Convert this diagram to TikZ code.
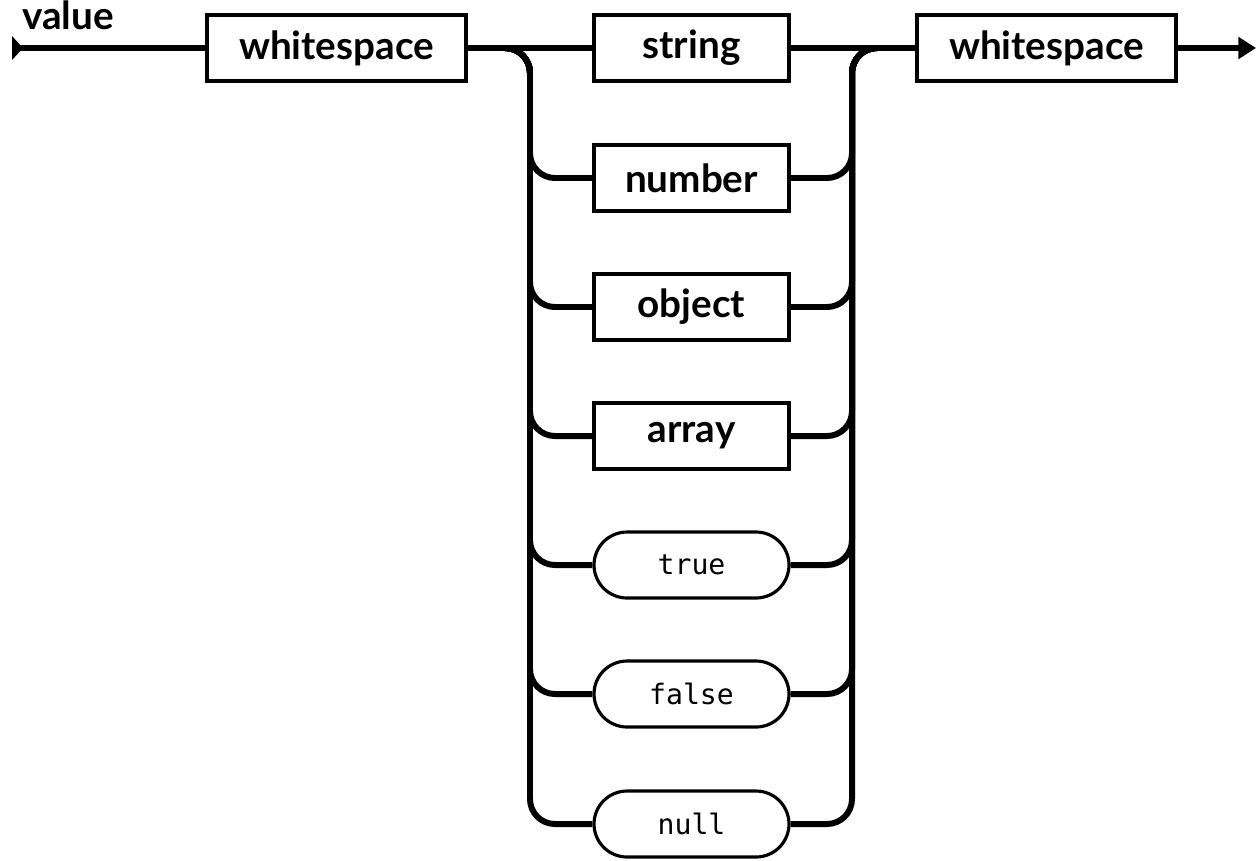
\documentclass[tikz,border=0pt]{standalone}
\usepackage{fontspec}
\setmainfont{Lato}
\setmonofont{DejaVu Sans Mono}
\usetikzlibrary{arrows.meta,positioning}

\begin{document}
\begin{tikzpicture}[x=0.02cm,y=-0.02cm,
    rule/.style={draw,line width=1.8pt,minimum height=1.32cm,font=\fontsize{22}{26}\selectfont\bfseries},
    lit/.style={draw,line width=1.8pt,rounded corners=0.66cm,minimum width=3.9cm,minimum height=1.32cm,font=\fontsize{16}{20}\ttfamily},
    track/.style={line width=3.4pt,rounded corners=0.5cm}]
    \useasboundingbox (0,0) rectangle (1260,860);
    % start and label
    \coordinate (start) at (16,48);
    \fill (12,36) -- (23,48) -- (12,60) -- cycle;
    \node[anchor=north west,inner sep=0pt,font=\fontsize{22}{26}\selectfont\bfseries] (lbl) at (22,0) {value};
    \node[rule,minimum width=5.18cm] (ws1) at (336.5,48) {whitespace};
    \node[rule,minimum width=5.18cm] (ws2) at (1046.5,48) {whitespace};
    \coordinate (stop) at (1256,48);
    % choices
    \node[rule,minimum width=3.9cm] (string) at (691.5,48) {string};
    \node[rule,minimum width=3.9cm] (number) at (691.5,178) {number};
    \node[rule,minimum width=3.9cm] (object) at (691.5,307) {object};
    \node[rule,minimum width=3.9cm] (array) at (691.5,436) {array};
    \node[lit] (true) at (691.5,565) {true};
    \node[lit] (false) at (691.5,694) {false};
    \node[lit] (null) at (691.5,824) {null};
    \draw[track] (start) -- (ws1.west);
    \draw[track] (ws1.east) -- (string.west);
    \draw[track] (string.east) -- (ws2.west);
    \draw[track,-{Triangle[length=10pt,width=12pt]}] (ws2.east) -- (stop);
    \foreach \b in {number,object,array,true,false,null}{
        \draw[track] (ws1.east) -| (530,0 |- \b.west) -- (\b.west);
        \draw[track] (\b.east) -| (852,48) -- (ws2.west);
    }
\end{tikzpicture}
\end{document}
